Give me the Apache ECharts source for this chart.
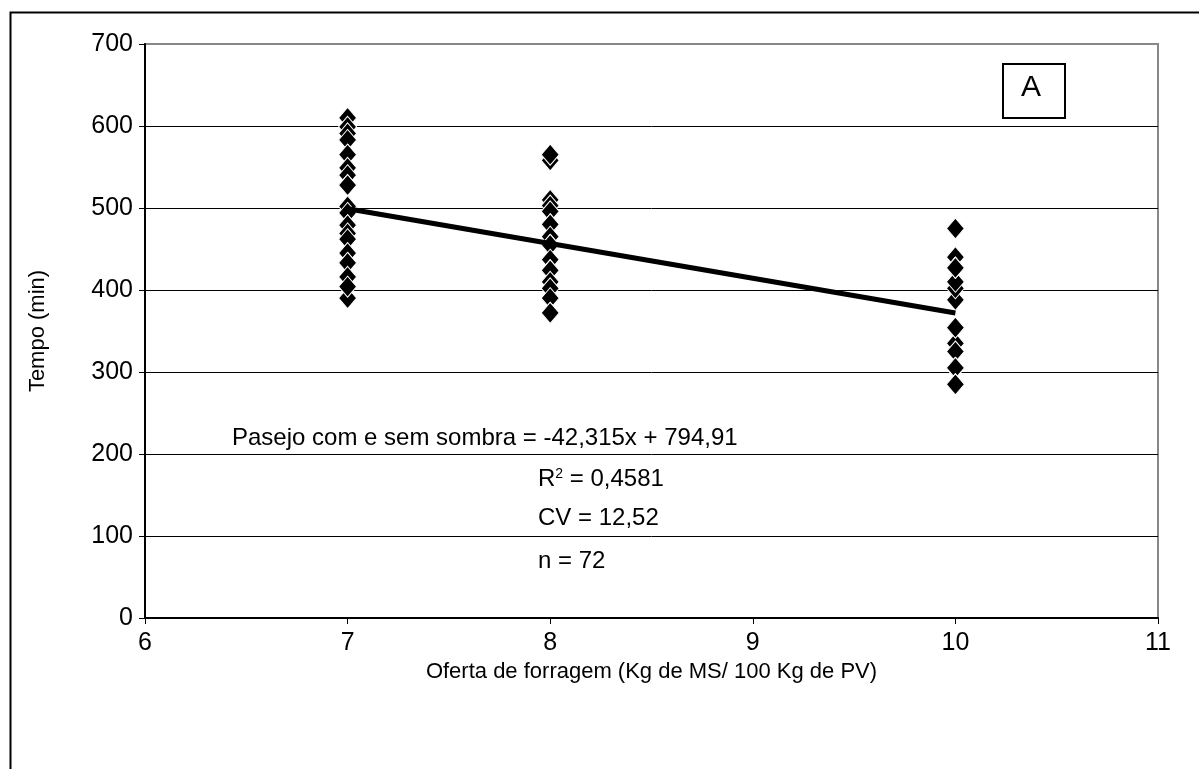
<!DOCTYPE html>
<html>
<head>
<meta charset="utf-8">
<title>Tempo x Oferta de forragem</title>
<script src="https://cdn.jsdelivr.net/npm/echarts@6/dist/echarts.min.js"></script>
<style>
    html, body {margin: 0; padding: 0; background: #fff;}
    #chart {width: 1199px; height: 769px;}
</style>
</head>
<body>
<div id="chart"></div>
<script>
// valores (minutos por oferta de forragem), na ordem de desenho
let OFERTA = [7, 8, 10];
let tempo7 = [610, 610, 599, 591, 583, 565, 565, 549, 540, 528, 528, 502, 502, 494, 479, 479, 469, 462, 445, 433, 433, 390, 416, 404];
let tempo8 = [565, 558, 565, 510, 510, 503, 496, 480, 480, 480, 465, 455, 455, 455, 437, 424, 424, 424, 410, 402, 390, 372, 372, 372];
let tempo10 = [475, 475, 440, 388, 402, 410, 427, 427, 427, 354, 354, 354, 335, 325, 305, 305, 305, 305, 285, 285, 285, 354, 427, 475];
// reta ajustada: extremos
let retaX = [7, 10];
let retaY = [499, 372];
let xTicks = [6, 7, 8, 9, 10, 11];
let yTicks = [0, 100, 200, 300, 400, 500, 600, 700];

let FONT = '"Liberation Sans", Arial, sans-serif';

function buildPoints() {
    let pts = [];
    let grupos = [tempo7, tempo8, tempo10];
    for (let i = 0; i < grupos.length; i++) {
        for (let v of grupos[i]) {
            pts.push([OFERTA[i], v]);
        }
    }
    return pts;
}

let myChart = echarts.init(document.getElementById('chart'));
// ultima linha de grade (700) fica cinza como a borda
let splitColors = yTicks.map(function (t, i) {
    return i === yTicks.length - 1 ? '#888' : '#000';
});

option = {
    backgroundColor: '#fff',
    animation: false,
    grid: {
        left: 145,
        right: 41,
        top: 44,
        bottom: 151,
        show: true,
        borderColor: '#888',
        borderWidth: 2
    },
    xAxis: {
        type: 'value',
        min: xTicks[0],
        max: xTicks[xTicks.length - 1],
        interval: 1,
        name: 'Oferta de forragem (Kg de MS/ 100 Kg de PV)',
        nameLocation: 'middle',
        nameGap: 40,
        nameTextStyle: {fontFamily: FONT, fontSize: 22, color: '#000'},
        axisLine: {lineStyle: {color: '#000', width: 2}},
        axisTick: {lineStyle: {color: '#000'}, length: 6},
        axisLabel: {fontFamily: FONT, fontSize: 25, color: '#000', margin: 13},
        splitLine: {show: false}
    },
    yAxis: {
        type: 'value',
        min: yTicks[0],
        max: yTicks[yTicks.length - 1],
        interval: 100,
        name: 'Tempo (min)',
        nameLocation: 'middle',
        nameGap: 96,
        nameTextStyle: {fontFamily: FONT, fontSize: 22, color: '#000'},
        axisLine: {show: true, lineStyle: {color: '#000', width: 2}},
        axisTick: {show: true, lineStyle: {color: '#000'}, length: 6},
        axisLabel: {fontFamily: FONT, fontSize: 25, color: '#000', margin: 12},
        splitLine: {show: true, lineStyle: {color: splitColors, width: 1}}
    },
    graphic: [
        {
            type: 'rect',
            left: 8, top: 10,
            shape: {width: 1260, height: 800},
            style: {fill: 'none', stroke: '#000', lineWidth: 2},
            silent: true
        },
        {
            type: 'rect',
            left: 1002, top: 63,
            shape: {width: 62, height: 54},
            style: {fill: '#fff', stroke: '#000', lineWidth: 2},
            z: 10
        },
        {
            type: 'text',
            left: 1021, top: 73,
            style: {text: 'A', font: '30px ' + FONT, fill: '#000'},
            z: 11
        },
        {
            type: 'text',
            left: 232, top: 426,
            style: {text: 'Pasejo com e sem sombra = -42,315x + 794,91', font: '24px ' + FONT, fill: '#000'},
            z: 10
        },
        {
            type: 'text',
            left: 538, top: 467,
            style: {
                rich: {n: {font: '24px ' + FONT, fill: '#000'}, s: {font: '14px ' + FONT, fill: '#000', verticalAlign: 'top'}},
                text: '{n|R}{s|2}{n| = 0,4581}'
            },
            z: 10
        },
        {
            type: 'text',
            left: 538, top: 506,
            style: {text: 'CV = 12,52', font: '24px ' + FONT, fill: '#000'},
            z: 10
        },
        {
            type: 'text',
            left: 538, top: 549,
            style: {text: 'n = 72', font: '24px ' + FONT, fill: '#000'},
            z: 10
        }
    ],
    series: [
        {
            name: 'Tempo',
            type: 'scatter',
            data: buildPoints(),
            symbol: 'diamond',
            symbolSize: [18, 21],
            itemStyle: {color: '#000', borderColor: '#fff', borderWidth: 1, opacity: 1},
            z: 2
        },
        {
            name: 'Reta',
            type: 'line',
            data: retaX.map(function (x, i) { return [x, retaY[i]]; }),
            showSymbol: false,
            lineStyle: {color: '#000', width: 5},
            z: 3
        }
    ]
};
if (option && typeof option === "object") {
    myChart.setOption(option, true);
}
</script>
</body>
</html>
